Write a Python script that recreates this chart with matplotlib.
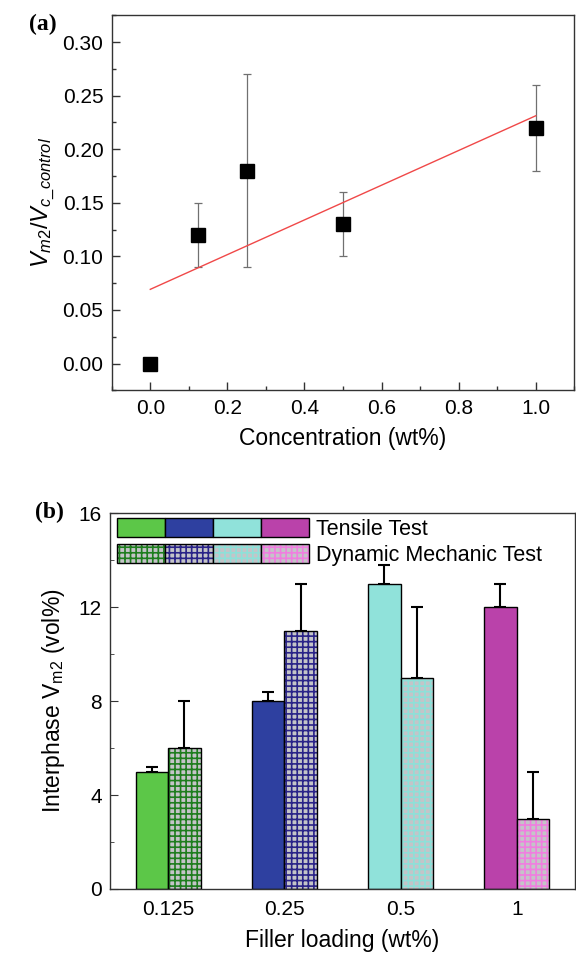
import matplotlib
matplotlib.use('Agg')
import matplotlib.pyplot as plt
from matplotlib.patches import Patch
from matplotlib.legend_handler import HandlerTuple
from matplotlib.ticker import MultipleLocator
import numpy as np

plt.rcParams['font.family'] = ['Liberation Sans', 'DejaVu Sans']
plt.rcParams['mathtext.fontset'] = 'custom'
plt.rcParams['mathtext.rm'] = 'Liberation Sans'
plt.rcParams['mathtext.it'] = 'Liberation Sans:italic'
plt.rcParams['hatch.linewidth'] = 1.2

# panel (a) data
conc = [0.0, 0.125, 0.25, 0.5, 1.0]
ratio = [0.0, 0.12, 0.18, 0.13, 0.22]
ratio_err = [0.0, 0.03, 0.09, 0.03, 0.04]

# panel (b) data
loadings = ['0.125', '0.25', '0.5', '1']
tensile = [5, 8, 13, 12]
tensile_err = [0.2, 0.4, 0.8, 1.0]
dma = [6, 11, 9, 3]
dma_err = [2, 2, 3, 2]
solid_colors = ['#5cc748', '#2e40a0', '#90e2da', '#ba42aa']
grid_colors = ['#1e7d1e', '#2a2388', '#8ee0d8', '#f07ee0']
grid_face = '#c4c4c8'

fig = plt.figure(figsize=(5.76, 9.59), dpi=100)

# ---- panel (a)
ax1 = fig.add_axes([0.194, 0.593, 0.803, 0.391])
slope, icpt = np.polyfit(conc, ratio, 1)
xfit = np.array([0.0, 1.0])
ax1.plot(xfit, icpt + slope * xfit, color='#f04848', lw=1.0, zorder=2)
ax1.errorbar(conc, ratio, yerr=ratio_err, fmt='none', ecolor='#707070',
             elinewidth=0.9, capsize=3, capthick=0.9, zorder=1)
ax1.plot(conc, ratio, 's', color='black', markersize=9.5, zorder=3)
ax1.set_xlim(-0.1, 1.1)
ax1.set_ylim(-0.025, 0.325)
ax1.xaxis.set_minor_locator(MultipleLocator(0.1))
ax1.yaxis.set_minor_locator(MultipleLocator(0.025))
ax1.set_xticks([0, 0.2, 0.4, 0.6, 0.8, 1.0])
ax1.set_xticklabels(['0.0', '0.2', '0.4', '0.6', '0.8', '1.0'])
ax1.set_yticks([0, 0.05, 0.10, 0.15, 0.20, 0.25, 0.30])
ax1.set_yticklabels(['0.00', '0.05', '0.10', '0.15', '0.20', '0.25', '0.30'])
ax1.tick_params(which='both', direction='in', top=False, right=False, labelsize=15, color='#333333')
ax1.tick_params(which='major', length=6, width=1, pad=6)
ax1.tick_params(which='minor', length=3, width=1)
ax1.set_xlabel('Concentration (wt%)', fontsize=16.5, labelpad=7)
ax1.set_ylabel(r'$V_{m2}/V_{c\_control}$', fontsize=17, labelpad=4)
for s in ax1.spines.values():
    s.set_linewidth(1.0)
    s.set_color('#333333')
fig.text(0.05, 0.975, '(a)', fontsize=17, fontweight='bold', family='Liberation Serif',
         ha='left', va='center')

# ---- panel (b)
ax2 = fig.add_axes([0.191, 0.073, 0.807, 0.392])
x = np.arange(len(loadings))
w = 0.28
ax2.bar(x - w / 2, tensile, w, color=solid_colors, edgecolor='black', linewidth=1.0, zorder=2)
ax2.bar(x + w / 2, dma, w, color=grid_face, edgecolor=grid_colors, hatch='+++', linewidth=0, zorder=2)
ax2.bar(x + w / 2, dma, w, fill=False, edgecolor='black', linewidth=1.0, zorder=3)
ax2.errorbar(x - w / 2, tensile, yerr=[np.zeros(4), tensile_err], fmt='none', ecolor='black',
             elinewidth=1.5, capsize=4, capthick=1.5, zorder=1)
ax2.errorbar(x + w / 2, dma, yerr=[np.zeros(4), dma_err], fmt='none', ecolor='black',
             elinewidth=1.5, capsize=4, capthick=1.5, zorder=1)
ax2.set_xlim(-0.5, 3.5)
ax2.set_ylim(0, 16)
ax2.set_xticks(x)
ax2.set_xticklabels(loadings)
ax2.set_yticks([0, 4, 8, 12, 16])
ax2.yaxis.set_minor_locator(MultipleLocator(2))
ax2.tick_params(axis='x', length=0, pad=8, labelsize=15)
ax2.tick_params(axis='y', which='both', direction='in', labelsize=15, pad=6, color='#333333')
ax2.tick_params(axis='y', which='major', length=6)
ax2.tick_params(axis='y', which='minor', length=3)
ax2.set_xlabel('Filler loading (wt%)', fontsize=16.5, labelpad=7)
ax2.set_ylabel(r'Interphase V$_{\rm m2}$ (vol%)', fontsize=16.5, labelpad=8)
for s in ax2.spines.values():
    s.set_linewidth(1.0)
    s.set_color('#333333')

row1 = tuple(Patch(facecolor=c, edgecolor='black', linewidth=1.0) for c in solid_colors)
row2 = tuple((Patch(facecolor=grid_face, edgecolor=c, hatch='+++', linewidth=0),
              Patch(fill=False, edgecolor='black', linewidth=1.0)) for c in grid_colors)
ax2.legend([row1, row2], ['Tensile Test', 'Dynamic Mechanic Test'],
           handler_map={row1: HandlerTuple(ndivide=None, pad=0),
                        row2: HandlerTuple(ndivide=None, pad=0)},
           loc='upper left', bbox_to_anchor=(0.015, 0.987), frameon=False,
           borderpad=0, borderaxespad=0, handlelength=8.9, handleheight=0.95,
           handletextpad=0.35, labelspacing=0.2, fontsize=15.5)
fig.text(0.06, 0.466, '(b)', fontsize=17, fontweight='bold', family='Liberation Serif',
         ha='left', va='center')

fig.savefig('out.png', dpi=100)
